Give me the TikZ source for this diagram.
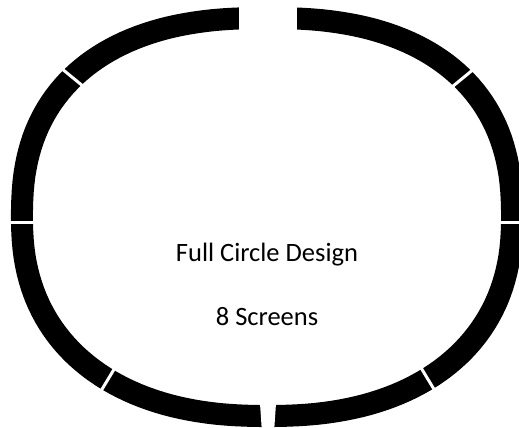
\documentclass[tikz,border=0pt]{standalone}
\usepackage{fontspec}
\setmainfont{Carlito}
\usepackage{tikz}

\begin{document}
\begin{tikzpicture}[x=1pt, y=-1pt,
    ring/.style={fill=black, even odd rule},
    gapcut/.style={draw=white, line width=3pt},
    caption/.style={font=\fontsize{26.5}{30}\selectfont, anchor=base}]
    % Canvas
    \clip (0,0) rectangle (519,428);

    % Screen ring (rounded band, a little flatter at the top)
    \fill[ring]
      plot[domain=1:179, samples=90] ({267+256*sign(cos(\x))*pow(abs(cos(\x)),0.833)}, {217-210*pow(sin(\x),0.833)})
      -- plot[domain=181:359, samples=90] ({267+256*sign(cos(\x))*pow(abs(cos(\x)),0.87)}, {217+210*pow(abs(sin(\x)),0.87)})
      -- cycle
      plot[domain=1:179, samples=90] ({267+234*sign(cos(\x))*pow(abs(cos(\x)),0.833)}, {217-188*pow(sin(\x),0.833)})
      -- plot[domain=181:359, samples=90] ({267+234*sign(cos(\x))*pow(abs(cos(\x)),0.87)}, {217+188*pow(abs(sin(\x)),0.87)})
      -- cycle;

    % Gaps between the 8 screens
    \fill[white] (239,0) rectangle (297,40);
    \fill[white] (259.5,396) -- (276.5,396) -- (274.2,430) -- (261.8,430) -- cycle;
    \draw[gapcut] (0,222.5) -- (45,222.5);
    \draw[gapcut] (490,222.5) -- (530,222.5);
    \draw[gapcut] (58.6,66.1) -- (86.4,88.9);
    \draw[gapcut] (477.4,66.1) -- (449.6,88.9);
    \draw[gapcut] (116.3,365.6) -- (97.7,396.4);
    \draw[gapcut] (419.7,365.6) -- (438.3,396.4);

    % Labels
    \node[caption] (title) at (267,261.7) {Full Circle Design};
    \node[caption] (count) at (267,325) {8 Screens};
\end{tikzpicture}
\end{document}
